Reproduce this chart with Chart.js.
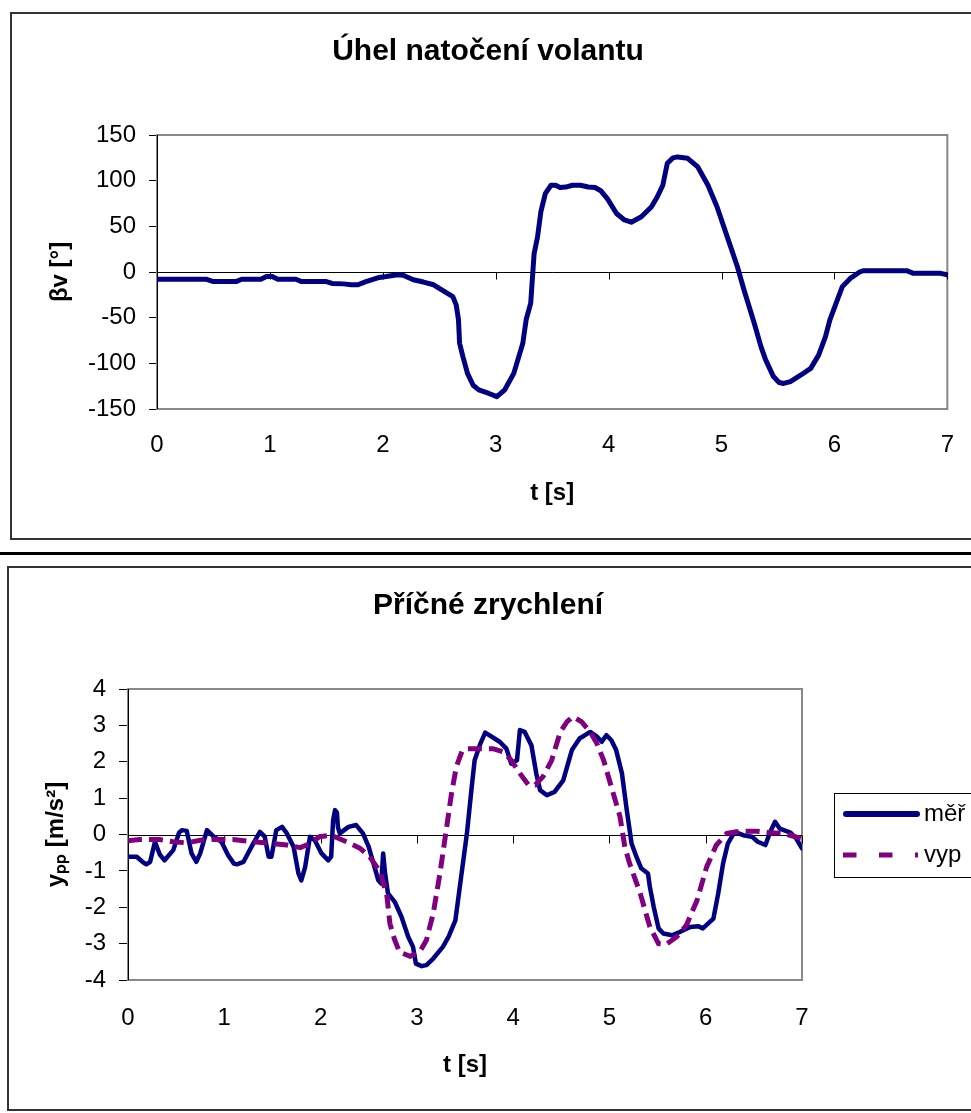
<!DOCTYPE html>
<html><head><meta charset="utf-8">
<script src="https://cdn.jsdelivr.net/npm/chart.js@4.4.1/dist/chart.umd.min.js"></script>
<style>
html,body{margin:0;padding:0;background:#fff;width:971px;height:1113px;overflow:hidden;position:relative;}
.frame{position:absolute;box-sizing:border-box;border:2px solid #333;}
canvas{position:absolute;left:0;}
</style></head><body>
<div class="frame" style="left:10px;top:12px;width:1000px;height:528px"></div>
<div style="position:absolute;left:0;top:552px;width:1000px;height:3px;background:#000"></div>
<div class="frame" style="left:7px;top:566px;width:1000px;height:545px"></div>
<canvas id="c1" width="976" height="545" style="top:0"></canvas>
<canvas id="c2" width="976" height="553" style="top:560px"></canvas>
<script>
// ---------- DATA ----------
const timeTicks = [0, 1, 2, 3, 4, 5, 6, 7];
const steerTicks = [-150, -100, -50, 0, 50, 100, 150];
const accTicks = [-4, -3, -2, -1, 0, 1, 2, 3, 4];

const steerT = [0.00,0.44,0.50,0.70,0.75,0.92,0.97,1.02,1.07,1.23,1.28,1.50,1.55,1.65,1.72,1.78,1.85,1.97,2.03,2.13,2.18,2.27,2.36,2.45,2.54,2.62,2.65,2.67,2.68,2.71,2.75,2.80,2.85,2.94,3.01,3.08,3.16,3.24,3.27,3.31,3.34,3.37,3.40,3.44,3.49,3.53,3.57,3.62,3.68,3.75,3.82,3.88,3.93,3.99,4.07,4.14,4.20,4.29,4.38,4.43,4.48,4.52,4.57,4.61,4.70,4.79,4.88,4.96,5.05,5.14,5.20,5.29,5.35,5.39,5.46,5.51,5.55,5.61,5.70,5.79,5.86,5.92,5.96,6.02,6.07,6.14,6.23,6.26,6.64,6.70,6.94,7.00];
const steerDeg = [-8,-8,-10.5,-10.5,-8,-8,-5,-5,-8,-8,-10.5,-10.5,-12.5,-13,-14,-14,-10.5,-6,-5,-3,-3.5,-8.5,-11,-14,-21,-27,-36,-52,-78,-93,-111,-124,-129,-133,-136.5,-129,-111,-78,-52,-34,20,38,66,86,95,95,92.5,93,95,95,93,92.5,89,80,64,57,54.5,60.5,71.5,82,95,119,125,126,124.5,115,95,71.5,38.7,6,-20,-56,-82,-96,-114.5,-121,-122,-120,-113,-105.5,-91,-71,-52.5,-32.5,-16,-7,0.5,1.5,1.5,-1.5,-1.5,-3];

const merT = [0.00,0.09,0.15,0.19,0.23,0.28,0.33,0.38,0.47,0.53,0.56,0.61,0.66,0.71,0.75,0.82,0.89,0.97,1.04,1.10,1.13,1.20,1.30,1.37,1.42,1.46,1.49,1.54,1.60,1.65,1.72,1.77,1.80,1.84,1.89,1.94,2.01,2.08,2.11,2.13,2.15,2.17,2.18,2.20,2.29,2.37,2.44,2.50,2.55,2.60,2.63,2.65,2.67,2.70,2.77,2.84,2.91,2.96,2.99,3.05,3.10,3.17,3.27,3.33,3.40,3.46,3.52,3.57,3.60,3.66,3.71,3.86,3.93,3.98,4.04,4.07,4.12,4.19,4.24,4.28,4.35,4.43,4.52,4.61,4.69,4.80,4.87,4.92,4.97,5.02,5.07,5.13,5.18,5.23,5.28,5.33,5.40,5.42,5.46,5.51,5.56,5.65,5.73,5.84,5.92,5.97,6.08,6.13,6.18,6.23,6.30,6.39,6.48,6.54,6.62,6.67,6.72,6.77,6.88,6.94,7.00];
const accMer = [-0.61,-0.61,-0.75,-0.82,-0.75,-0.2,-0.55,-0.71,-0.43,0.05,0.12,0.1,-0.52,-0.75,-0.52,0.12,-0.06,-0.2,-0.57,-0.8,-0.82,-0.75,-0.25,0.07,-0.06,-0.61,-0.61,0.12,0.21,0.03,-0.34,-1.07,-1.26,-0.89,-0.06,-0.16,-0.52,-0.71,-0.61,0.39,0.67,0.6,0.2,0.03,0.21,0.26,0.03,-0.34,-0.8,-1.26,-1.35,-0.52,-1.07,-1.62,-1.85,-2.26,-2.81,-3.09,-3.55,-3.62,-3.59,-3.41,-3.09,-2.81,-2.36,-1.16,0.03,1.31,2.04,2.5,2.8,2.55,2.36,1.95,2.04,2.87,2.82,2.45,1.68,1.22,1.08,1.17,1.49,2.32,2.64,2.82,2.69,2.55,2.73,2.59,2.32,1.68,0.67,-0.25,-0.61,-0.93,-1.07,-1.44,-1.99,-2.58,-2.72,-2.77,-2.68,-2.54,-2.52,-2.58,-2.31,-1.62,-0.8,-0.25,0.07,-0.02,-0.06,-0.2,-0.29,0.07,0.35,0.16,0.05,-0.11,-0.38];

const vypT = [0.00,0.12,0.33,0.47,0.61,0.75,0.89,1.09,1.30,1.51,1.65,1.79,1.89,1.99,2.11,2.27,2.41,2.51,2.62,2.69,2.72,2.77,2.82,2.93,3.03,3.10,3.17,3.24,3.31,3.36,3.41,3.47,3.52,3.79,3.90,3.98,4.07,4.16,4.23,4.31,4.40,4.49,4.56,4.62,4.71,4.80,4.87,4.94,5.02,5.11,5.16,5.21,5.32,5.42,5.51,5.59,5.70,5.80,5.91,6.01,6.11,6.22,6.36,6.53,6.67,6.81,6.99];
const accVyp = [-0.17,-0.14,-0.14,-0.2,-0.23,-0.16,-0.13,-0.14,-0.2,-0.25,-0.29,-0.36,-0.25,-0.06,-0.02,-0.2,-0.38,-0.61,-1.03,-1.71,-2.45,-2.9,-3.23,-3.35,-3.23,-2.9,-2.17,-1.07,0.21,1.13,1.86,2.3,2.36,2.36,2.27,2.04,1.68,1.36,1.36,1.59,2.04,2.82,3.10,3.24,3.10,2.82,2.50,2.04,1.31,0.49,-0.34,-0.8,-1.62,-2.54,-3.0,-3.02,-2.81,-2.49,-1.81,-0.89,-0.29,0.03,0.09,0.09,0.05,0.03,-0.11];

// ---------- STYLE / PLUGINS ----------
const FONT = "'Liberation Sans', Arial, Helvetica, sans-serif";
Chart.defaults.font.family = FONT;
Chart.defaults.color = '#000';
Chart.defaults.animation = false;

function toXY(ts, vs) { return ts.map((t, i) => ({x: t, y: vs[i]})); }

const excelFrame = {
  id: 'excelFrame',
  beforeDatasetsDraw(chart, args, o) {
    const {ctx, chartArea: a, scales} = chart;
    const xs = scales.x, ys = scales.y;
    ctx.save();
    ctx.strokeStyle = '#888';
    ctx.lineWidth = 2;
    ctx.strokeRect(a.left, a.top, a.right - a.left, a.bottom - a.top);
    const y0 = Math.round(ys.getPixelForValue(0)) + 0.5;
    ctx.strokeStyle = '#000';
    ctx.lineWidth = 1;
    ctx.beginPath();
    ctx.moveTo(a.left, y0); ctx.lineTo(a.right, y0);
    xs.ticks.forEach(t => {
      const px = Math.round(xs.getPixelForValue(t.value)) + 0.5;
      ctx.moveTo(px, y0); ctx.lineTo(px, y0 + o.tickLen);
    });
    const lx = Math.round(a.left) + 0.5;
    ctx.moveTo(lx, a.top); ctx.lineTo(lx, a.bottom);
    ctx.stroke();
    ctx.restore();
  }
};

const excelLegend = {
  id: 'excelLegend',
  afterDraw(chart, args, o) {
    if (!o || !o.show) return;
    const {ctx, chartArea: a} = chart;
    const cy = (a.top + a.bottom) / 2;
    const left = Math.round(a.right + o.gap);
    const top = Math.round(cy - o.height / 2);
    const dsets = chart.data.datasets;
    ctx.save();
    ctx.strokeStyle = '#000';
    ctx.lineWidth = 1;
    ctx.strokeRect(left + 0.5, top + 0.5, o.width, o.height);
    dsets.forEach((ds, i) => {
      const ry = cy + (i - (dsets.length - 1) / 2) * o.rowGap;
      ctx.beginPath();
      ctx.strokeStyle = ds.borderColor;
      ctx.lineWidth = o.sampleWidth[i];
      ctx.lineCap = o.sampleCap[i];
      ctx.setLineDash(o.sampleDash[i]);
      ctx.moveTo(left + o.sx0[i], ry);
      ctx.lineTo(left + o.sx1[i], ry);
      ctx.stroke();
      ctx.setLineDash([]);
      ctx.fillStyle = '#000';
      ctx.font = '24px ' + FONT;
      ctx.textAlign = 'left';
      ctx.textBaseline = 'middle';
      ctx.fillText(ds.label, left + o.textX, ry);
    });
    ctx.restore();
  }
};

function xScale(h, labelPad, titlePadBottom) {
  return {
    type: 'linear', position: 'bottom', min: 0, max: 7,
    afterBuildTicks: s => { s.ticks = timeTicks.map(v => ({value: v})); },
    afterFit: s => { s.height = h; },
    grid: {display: false, drawTicks: false},
    border: {display: false},
    ticks: {font: {size: 24}, color: '#000', padding: labelPad, maxRotation: 0},
    title: {display: true, text: 't [s]', font: {size: 24, weight: 'bold'}, color: '#000', padding: {top: 0, bottom: titlePadBottom}}
  };
}
function yScale(w, minV, maxV, tickVals, title, titlePadTop, tickLen) {
  return {
    type: 'linear', position: 'left', min: minV, max: maxV,
    afterBuildTicks: s => { s.ticks = tickVals.map(v => ({value: v})); },
    afterFit: s => { s.width = w; },
    grid: {display: true, drawOnChartArea: false, drawTicks: true, tickLength: tickLen, color: '#000', lineWidth: 1},
    border: {display: false},
    ticks: {font: {size: 24}, color: '#000', padding: 13},
    title: {display: true, text: title, font: {size: 24, weight: 'bold'}, color: '#000', padding: {top: titlePadTop, bottom: 0}}
  };
}
function spacer(w) {
  return {
    type: 'linear', position: 'right', axis: 'y', display: true,
    afterFit: s => { s.width = w; },
    grid: {display: false, drawTicks: false}, border: {display: false},
    ticks: {display: false}, title: {display: false}
  };
}

// ---------- CHART 1 ----------
new Chart(document.getElementById('c1'), {
  type: 'line',
  data: {
    datasets: [{
      label: 'βv',
      data: toXY(steerT, steerDeg),
      borderColor: '#000080', borderWidth: 5,
      borderJoinStyle: 'round', borderCapStyle: 'round',
      pointRadius: 0, tension: 0, fill: false
    }]
  },
  options: {
    responsive: false, animation: false,
    layout: {padding: 0},
    plugins: {
      legend: {display: false}, tooltip: {enabled: false},
      title: {display: true, text: 'Úhel natočení volantu', color: '#000',
              font: {size: 30, weight: 'bold'}, padding: {top: 34, bottom: 65}},
      excelFrame: {tickLen: 7},
      excelLegend: {show: false}
    },
    scales: {
      x: xScale(136, 22, 37),
      y: yScale(157, -150, 150, steerTicks, 'βv [°]', 46, 8),
      r: spacer(25)
    }
  },
  plugins: [excelFrame, excelLegend]
});

// ---------- CHART 2 ----------
new Chart(document.getElementById('c2'), {
  type: 'line',
  data: {
    datasets: [{
      label: 'měř',
      data: toXY(merT, accMer),
      borderColor: '#000080', borderWidth: 4.5,
      borderJoinStyle: 'round', borderCapStyle: 'round',
      pointRadius: 0, tension: 0, fill: false, order: 2
    }, {
      label: 'vyp',
      data: toXY(vypT, accVyp),
      borderColor: '#800080', borderWidth: 5,
      borderDash: [14, 7], borderJoinStyle: 'miter', borderCapStyle: 'butt',
      pointRadius: 0, tension: 0, fill: false, order: 1
    }]
  },
  options: {
    responsive: false, animation: false,
    layout: {padding: 0},
    plugins: {
      legend: {display: false}, tooltip: {enabled: false},
      title: {display: true, text: 'Příčné zrychlení', color: '#000',
              font: {size: 30, weight: 'bold'}, padding: {top: 28, bottom: 65}},
      excelFrame: {tickLen: 8},
      excelLegend: {show: true, gap: 32, width: 200, height: 84, rowGap: 41,
        sampleWidth: [6, 5], sampleCap: ['round', 'butt'], sampleDash: [[], [13.5, 22.5]],
        sx0: [12, 9], sx1: [83, 84], textX: 90}
    },
    scales: {
      x: xScale(133, 24, 33),
      y: yScale(128, -4, 4, accTicks, 'yₚₚ [m/s²]', 42, 9),
      r: spacer(174)
    }
  },
  plugins: [excelFrame, excelLegend]
});
</script>
</body></html>
